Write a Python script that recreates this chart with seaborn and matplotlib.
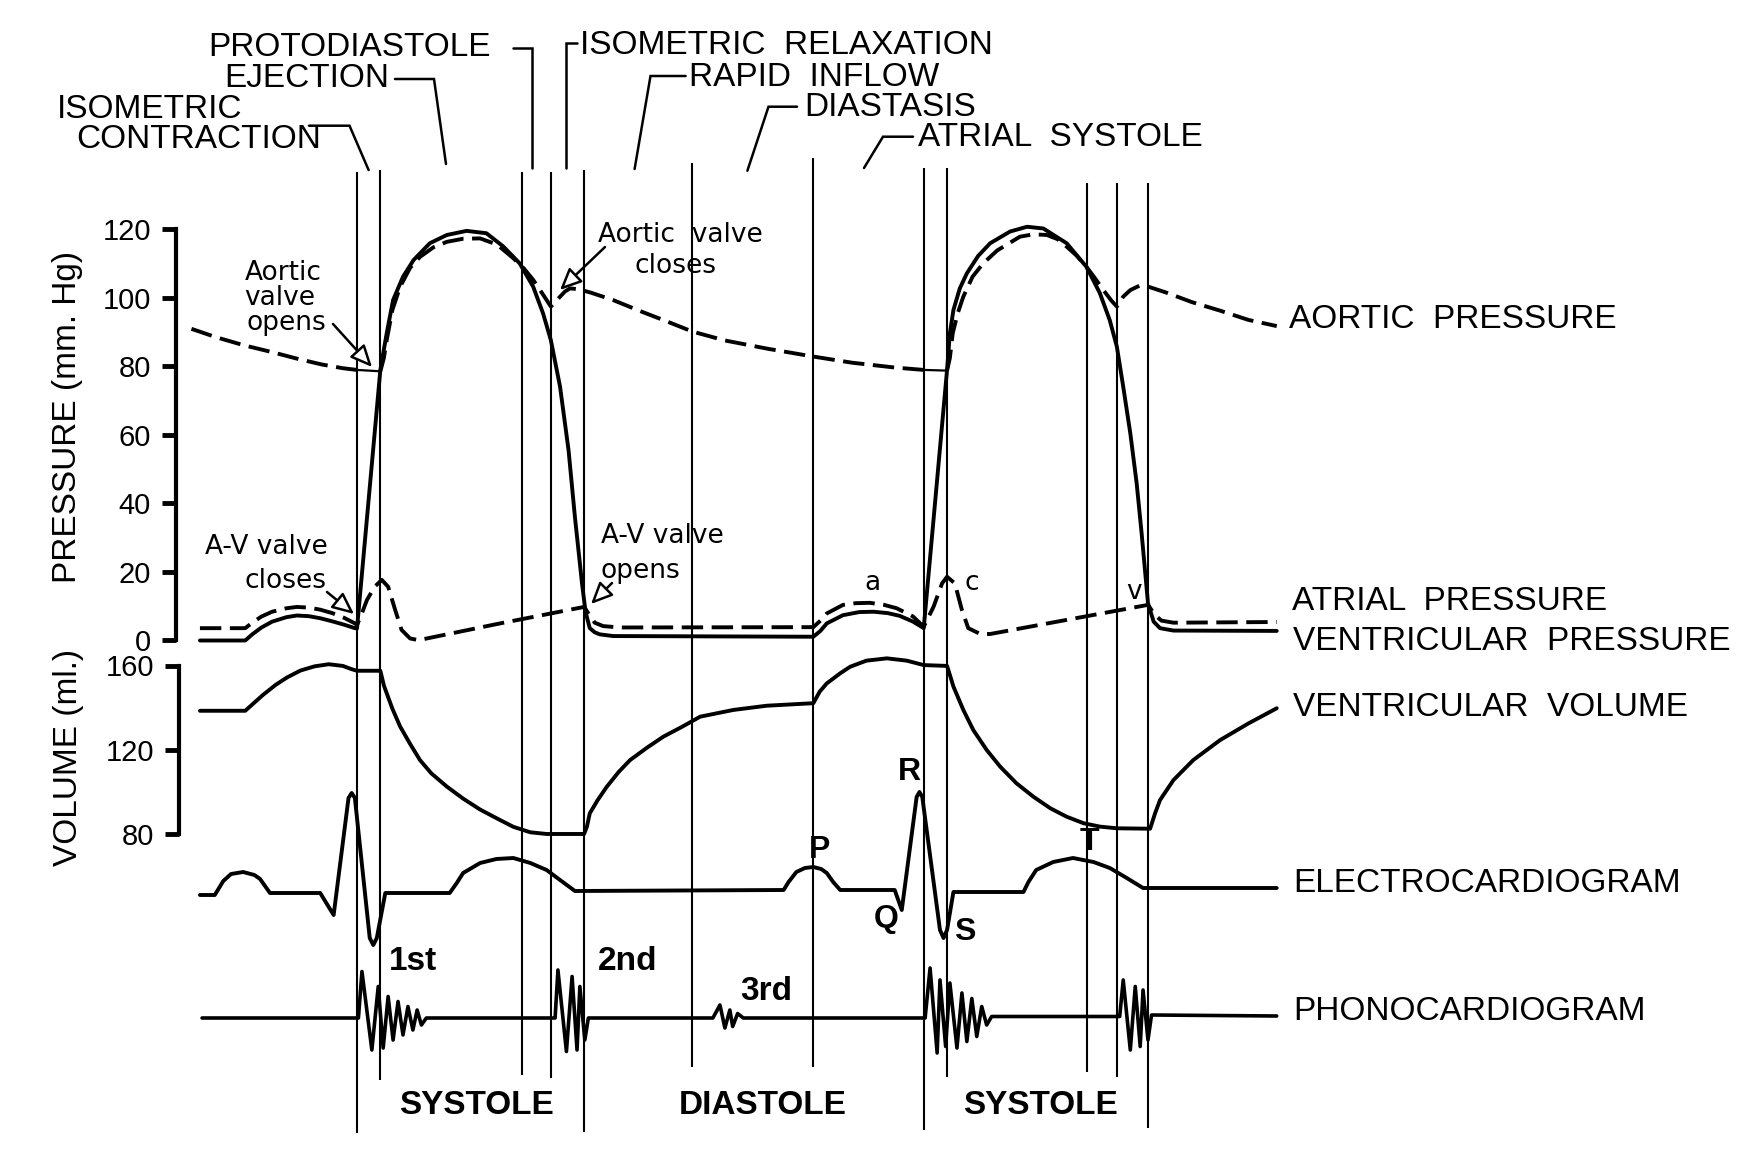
import numpy as np
import matplotlib
matplotlib.use("Agg")
import matplotlib.pyplot as plt
import seaborn as sns

# ---- data: time in ms from closure of the A-V valve ----
EVENT_MS = [0, 33, 233, 274, 321, 474, 645, 801, 834, 1032, 1074, 1118]

AORTIC_MS = [-234, -200, -160, -120, -85, -50, -20, 0, 33, 38, 42, 50, 61, 75, 89,
             108, 127, 150, 174, 198, 221, 236, 249, 262, 268, 274, 280, 287, 294,
             301, 312, 330, 362, 400, 440, 474, 520, 580, 645, 700, 760, 801, 834,
             838, 842, 849, 857, 870, 885, 905, 937, 956, 975, 990, 1003, 1017,
             1031, 1043, 1055, 1066, 1074, 1083, 1093, 1107, 1120, 1145, 1180,
             1220, 1260, 1300]
AORTIC_MMHG = [91.0, 88.6, 86.2, 84.2, 82.3, 80.6, 79.5, 79.0, 78.6, 82.5, 87.7,
               96.5, 103.3, 108.8, 112.0, 114.8, 116.4, 117.3, 117.4, 115.6, 111.6,
               108.6, 105.3, 101.3, 99.4, 97.5, 98.8, 100.4, 101.9, 102.8, 102.6,
               101.6, 99.4, 96.2, 93.0, 90.2, 87.6, 85.2, 82.9, 81.1, 79.7, 79.0,
               78.8, 82.5, 89.7, 95.5, 100.4, 106.2, 110.1, 113.9, 117.9, 118.6,
               118.4, 117.2, 115.0, 112.4, 109.1, 105.8, 102.3, 99.3, 97.5, 100.4,
               102.3, 103.7, 103.2, 101.5, 98.8, 96.3, 93.6, 91.8]

VENTRIC_MS = [-222, -158, -148, -135, -120, -100, -85, -68, -52, -35, -18, -3, 0,
              33, 38, 42, 51, 65, 80, 103, 127, 155, 183, 207, 230, 249, 263, 274,
              287, 299, 308, 318, 323, 329, 336, 343, 362, 645, 655, 664, 687, 710,
              730, 750, 767, 786, 801, 834, 838, 843, 852, 862, 878, 895, 923, 947,
              970, 1003, 1031, 1050, 1064, 1074, 1083, 1093, 1102, 1109, 1118, 1126,
              1135, 1154, 1300]
VENTRIC_MMHG = [0.0, 0.0, 1.8, 3.8, 5.5, 6.8, 7.3, 7.1, 6.5, 5.6, 4.6, 3.6, 3.5,
                79.0, 85.0, 89.7, 99.4, 106.2, 111.1, 116.0, 118.4, 119.6, 118.9,
                115.0, 110.1, 103.3, 95.5, 87.7, 74.1, 55.6, 36.1, 16.7, 8.4, 3.6,
                2.4, 1.8, 1.3, 1.1, 2.8, 5.0, 7.4, 8.3, 8.4, 8.0, 7.2, 5.5, 3.6,
                79.0, 89.7, 96.5, 102.8, 107.2, 112.3, 116.0, 119.4, 120.8, 120.3,
                116.0, 109.1, 101.4, 93.5, 85.8, 74.1, 60.5, 45.9, 31.3, 10.9, 5.5,
                3.6, 2.9, 2.8]

ATRIAL_MS = [-222, -158, -148, -135, -120, -100, -85, -68, -52, -35, -18, -3, 0, 7,
             14, 25, 35, 44, 54, 63, 75, 87, 200, 321, 327, 336, 348, 372, 645, 655,
             664, 687, 705, 725, 745, 763, 786, 801, 815, 827, 834, 845, 855, 864,
             881, 895, 1000, 1118, 1128, 1137, 1154, 1300]
ATRIAL_MMHG = [3.6, 3.6, 5.2, 7.0, 8.4, 9.4, 9.8, 9.6, 9.0, 8.0, 6.6, 5.0, 4.5, 8.0,
               11.8, 15.7, 17.7, 15.7, 8.9, 3.1, 0.6, 0.1, 4.9, 9.8, 7.9, 5.2, 4.2,
               3.8, 3.9, 5.8, 7.9, 10.4, 10.9, 11.0, 10.4, 9.4, 7.0, 4.0, 9.9, 16.7,
               18.6, 16.7, 8.9, 3.6, 1.9, 1.9, 5.9, 10.4, 7.4, 5.8, 5.2, 5.4]

VOLUME_MS = [-222, -158, -148, -133, -115, -99, -80, -60, -40, -20, -8, 0, 33, 38,
             42, 50, 61, 75, 89, 105, 127, 150, 174, 200, 221, 245, 268, 321, 325,
             329, 340, 353, 370, 386, 410, 433, 460, 485, 532, 579, 645, 654, 664,
             683, 697, 720, 749, 777, 801, 834, 838, 843, 857, 871, 890, 909, 932,
             956, 980, 1003, 1027, 1050, 1074, 1121, 1128, 1135, 1154, 1182, 1220,
             1260, 1300]
VOLUME_ML = [138.5, 138.5, 141.5, 146.0, 150.8, 154.3, 157.6, 159.6, 160.6, 159.8,
             158.3, 157.5, 157.5, 150.5, 146.8, 139.5, 131.0, 122.8, 115.1, 108.8,
             102.5, 96.8, 91.6, 87.0, 83.4, 80.8, 80.0, 80.0, 83.5, 89.8, 96.0,
             102.4, 109.5, 115.1, 121.0, 126.2, 131.0, 135.7, 138.9, 140.9, 142.1,
             147.6, 151.5, 156.3, 159.4, 162.3, 163.4, 162.3, 160.2, 159.8, 155.5,
             150.0, 138.9, 129.4, 119.9, 112.0, 104.1, 97.7, 92.2, 88.2, 85.1, 83.5,
             82.7, 82.5, 89.8, 96.1, 105.6, 115.1, 124.6, 132.5, 139.7]

ECG_MS = [-222, -201, -195, -189, -178, -161, -145, -137, -130, -123, -52, -33, -12,
          -7.5, -3, 18, 23, 28, 40, 131, 141, 150, 174, 197, 221, 245, 268, 287,
          308, 603, 610, 621, 633, 645, 656, 664, 673, 683, 760, 770, 791, 795, 799,
          824, 829, 834, 843, 942, 949, 960, 984, 1012, 1041, 1064, 1088, 1111, 1300]
ECG_MV = [-0.03, -0.03, 0.04, 0.11, 0.18, 0.20, 0.17, 0.13, 0.06, -0.01, -0.01,
          -0.23, 0.94, 0.99, 0.94, -0.46, -0.53, -0.46, -0.01, -0.01, 0.09, 0.19,
          0.29, 0.33, 0.34, 0.29, 0.22, 0.12, 0.01, 0.02, 0.10, 0.20, 0.24, 0.25,
          0.23, 0.19, 0.10, 0.02, 0.02, -0.18, 0.95, 1.00, 0.95, -0.38, -0.46, -0.38,
          0.00, 0.00, 0.10, 0.22, 0.30, 0.34, 0.30, 0.24, 0.14, 0.04, 0.04]

PHONO_MS = [-219, 2, 7, 21, 30, 37, 44, 51, 58, 65, 72, 79, 85, 91, 98, 280, 284,
            296, 304, 311, 315, 322, 327, 503, 513, 520, 527, 531, 538, 546, 803,
            810, 820, 824, 832, 838, 848, 855, 862, 869, 876, 883, 890, 897, 1078,
            1083, 1093, 1100, 1107, 1111, 1118, 1123, 1300]
PHONO_AMP = [0.0, 0.0, 0.93, -0.64, 0.63, -0.60, 0.43, -0.44, 0.33, -0.34, 0.23,
             -0.24, 0.16, -0.14, 0.0, 0.0, 0.96, -0.67, 0.83, -0.64, 0.63, -0.44,
             0.0, 0.0, 0.26, -0.20, 0.16, -0.17, 0.09, 0.0, 0.0, 1.00, -0.70, 0.76,
             -0.57, 0.70, -0.60, 0.50, -0.47, 0.39, -0.37, 0.23, -0.14, 0.03, 0.03,
             0.76, -0.64, 0.63, -0.57, 0.56, -0.44, 0.06, 0.04]

PRESSURE_TICKS = [0, 20, 40, 60, 80, 100, 120]
VOLUME_TICKS = [80, 120, 160]

# ---- layout (figure pixels) ----
W, H = 1745, 1149
X0_PX, PX_PER_MS = 357, 0.7075


def ms_at(px):
    return (px - X0_PX) / PX_PER_MS


T_LEFT, T_RIGHT = ms_at(0), ms_at(W)
LW = 2.8

sns.set_style("white")
plt.rcParams["font.family"] = ["Liberation Sans", "DejaVu Sans"]
plt.rcParams["text.color"] = "black"
plt.rcParams["ytick.color"] = "black"
plt.rcParams["axes.edgecolor"] = "black"

fig = plt.figure(figsize=(W / 100, H / 100), dpi=100)
fig.patch.set_facecolor("white")

# event markers: x in ms, y in figure pixels
ev = fig.add_axes([0, 0, 1, 1])
ev.set_xlim(T_LEFT, T_RIGHT)
ev.set_ylim(H, 0)
ev.axis("off")
ev_tops = [172, 170, 172, 172, 170, 163, 158, 168, 168, 183, 183, 183]
ev_bottoms = [1133, 1080, 1075, 1078, 1132, 1067, 1067, 1130, 1077, 1072, 1077, 1128]
ev.vlines(EVENT_MS, ev_tops, ev_bottoms, color="black", lw=1.5)


def band(ref_val, ref_px, px_per_unit, lo, hi):
    top = ref_px - (hi - ref_val) * px_per_unit
    bottom = ref_px + (ref_val - lo) * px_per_unit
    ax = fig.add_axes([0, 1 - bottom / H, 1, (bottom - top) / H])
    ax.set_xlim(T_LEFT, T_RIGHT)
    ax.set_ylim(lo, hi)
    ax.patch.set_alpha(0)
    ax.set_xticks([])
    ax.set_yticks([])
    for s in ["top", "right", "bottom", "left"]:
        ax.spines[s].set_visible(False)
    return ax


def trace(ax, t, v, lo=None, hi=None, **kw):
    t = np.asarray(t, float)
    v = np.asarray(v, float)
    m = np.ones(len(t), bool)
    if lo is not None:
        m &= t >= lo
    if hi is not None:
        m &= t <= hi
    kw.setdefault("linewidth", LW)
    sns.lineplot(x=t[m], y=v[m], ax=ax, sort=False, estimator=None,
                 color="black", **kw)
    ax.set(xlabel="", ylabel="")


def left_axis(ax, spine_px, ticks, pad):
    sp = ax.spines["left"]
    sp.set_visible(True)
    sp.set_color("black")
    sp.set_position(("data", ms_at(spine_px)))
    sp.set_bounds(ticks[0], ticks[-1])
    sp.set_linewidth(3)
    ax.set_yticks(ticks)
    ax.set_yticklabels([str(k) for k in ticks])
    ax.tick_params(axis="y", left=True, direction="out", length=10, width=3.5,
                   pad=pad, labelsize=21, colors="black")


DASH = (0, (5.5, 2.2))

# pressure
ax_p = band(0, 640.5, 3.425, -6, 124)
left_axis(ax_p, 176, PRESSURE_TICKS, 8)
trace(ax_p, AORTIC_MS, AORTIC_MMHG, hi=0, linestyle=DASH)
trace(ax_p, AORTIC_MS, AORTIC_MMHG, lo=33, hi=801, linestyle=DASH)
trace(ax_p, AORTIC_MS, AORTIC_MMHG, lo=834, linestyle=DASH)
trace(ax_p, AORTIC_MS, AORTIC_MMHG, lo=0, hi=33, linewidth=1.6)
trace(ax_p, AORTIC_MS, AORTIC_MMHG, lo=801, hi=834, linewidth=1.6)
trace(ax_p, ATRIAL_MS, ATRIAL_MMHG, linestyle=DASH)
trace(ax_p, VENTRIC_MS, VENTRIC_MMHG)

# volume
ax_v = band(160, 665.5, 2.106, 74, 168)
left_axis(ax_v, 179, VOLUME_TICKS, 8)
trace(ax_v, VOLUME_MS, VOLUME_ML)

# ECG and phonocardiogram
ax_e = band(0, 892, 100, -0.7, 1.2)
trace(ax_e, ECG_MS, ECG_MV)
ax_s = band(0, 1018, 50, -1.3, 1.3)
trace(ax_s, PHONO_MS, PHONO_AMP, linewidth=2.6)

# ---- text layer in figure pixels ----
lay = fig.add_axes([0, 0, 1, 1])
lay.set_xlim(0, W)
lay.set_ylim(H, 0)
lay.axis("off")

BIG = 24
top_labels = [
    ("PROTODIASTOLE", 491, 47.5, "right"),
    ("EJECTION", 389, 78.5, "right"),
    ("ISOMETRIC", 57, 110, "left"),
    ("CONTRACTION", 76, 140, "left"),
    ("ISOMETRIC  RELAXATION", 580, 45, "left"),
    ("RAPID  INFLOW", 689, 77, "left"),
    ("DIASTASIS", 804, 107, "left"),
    ("ATRIAL  SYSTOLE", 918, 138, "left"),
]
for s, x, y, ha in top_labels:
    lay.text(x, y, s, fontsize=BIG, ha=ha, va="center")

leaders = [
    [(309, 125.7), (349.5, 125.7), (368.6, 170)],
    [(395, 79), (434, 79), (446, 164)],
    [(513, 48), (532.5, 48), (532.5, 168)],
    [(577, 43), (565.7, 43), (565.7, 168)],
    [(685.6, 76), (650.5, 76), (634.6, 169)],
    [(797, 106.7), (768.5, 106.7), (747.4, 170.7)],
    [(913, 136.7), (883, 136.7), (864, 168)],
]
for pts in leaders:
    xs, ys = zip(*pts)
    lay.plot(xs, ys, color="black", lw=1.8, solid_joinstyle="miter")

right_labels = [
    ("AORTIC  PRESSURE", 1289, 319),
    ("ATRIAL  PRESSURE", 1292, 601),
    ("VENTRICULAR  PRESSURE", 1293, 642),
    ("VENTRICULAR  VOLUME", 1293, 707),
    ("ELECTROCARDIOGRAM", 1293, 883),
    ("PHONOCARDIOGRAM", 1293, 1012),
]
for s, x, y in right_labels:
    lay.text(x, y, s, fontsize=BIG, ha="left", va="center")

for s, x in [("SYSTOLE", 476), ("DIASTOLE", 763), ("SYSTOLE", 1040)]:
    lay.text(x, 1105, s, fontsize=BIG, fontweight="bold", ha="center", va="center")

lay.text(68, 417, "PRESSURE (mm. Hg)", fontsize=BIG, rotation=90,
         ha="center", va="center")
lay.text(69, 757, "VOLUME (ml.)", fontsize=BIG, rotation=90,
         ha="center", va="center")

# small annotations
ANN = dict(family="DejaVu Sans", fontsize=19, color="black")
notes = [
    ("Aortic", 283, 280, "center"), ("valve", 280, 305, "center"),
    ("opens", 286, 330, "center"),
    ("Aortic  valve", 680, 242, "center"), ("closes", 676, 273, "center"),
    ("A-V valve", 328, 554, "right"), ("closes", 327, 588, "right"),
    ("A-V valve", 601, 543, "left"), ("opens", 601, 578, "left"),
]
for s, x, y, ha in notes:
    lay.text(x, y, s, ha=ha, va="baseline", **ANN)

arrows = [
    ((333, 324), (372, 367)),
    ((605, 247), (560, 290)),
    ((327, 592), (354, 614)),
    ((612, 583), (591, 604)),
]
for start, end in arrows:
    lay.annotate("", xy=end, xytext=start,
                 arrowprops=dict(arrowstyle="-|>,head_length=0.55,head_width=0.25",
                                 facecolor="white", edgecolor="black", lw=1.8,
                                 shrinkA=0, shrinkB=0, mutation_scale=24))

for s, x, y in [("a", 872, 583), ("c", 972, 583), ("v", 1134, 592)]:
    lay.text(x, y, s, ha="center", va="center", **ANN)

for s, x, y in [("P", 820, 850), ("R", 909, 772), ("Q", 886, 919),
                ("S", 965, 932), ("T", 1089, 842)]:
    lay.text(x, y, s, fontsize=23, fontweight="bold", ha="center", va="center")

for s, x, y in [("1st", 413, 962), ("2nd", 628, 962), ("3rd", 766, 992)]:
    lay.text(x, y, s, fontsize=24, fontweight="bold", ha="center", va="center")

fig.savefig("out.png", dpi=100, facecolor="white")
